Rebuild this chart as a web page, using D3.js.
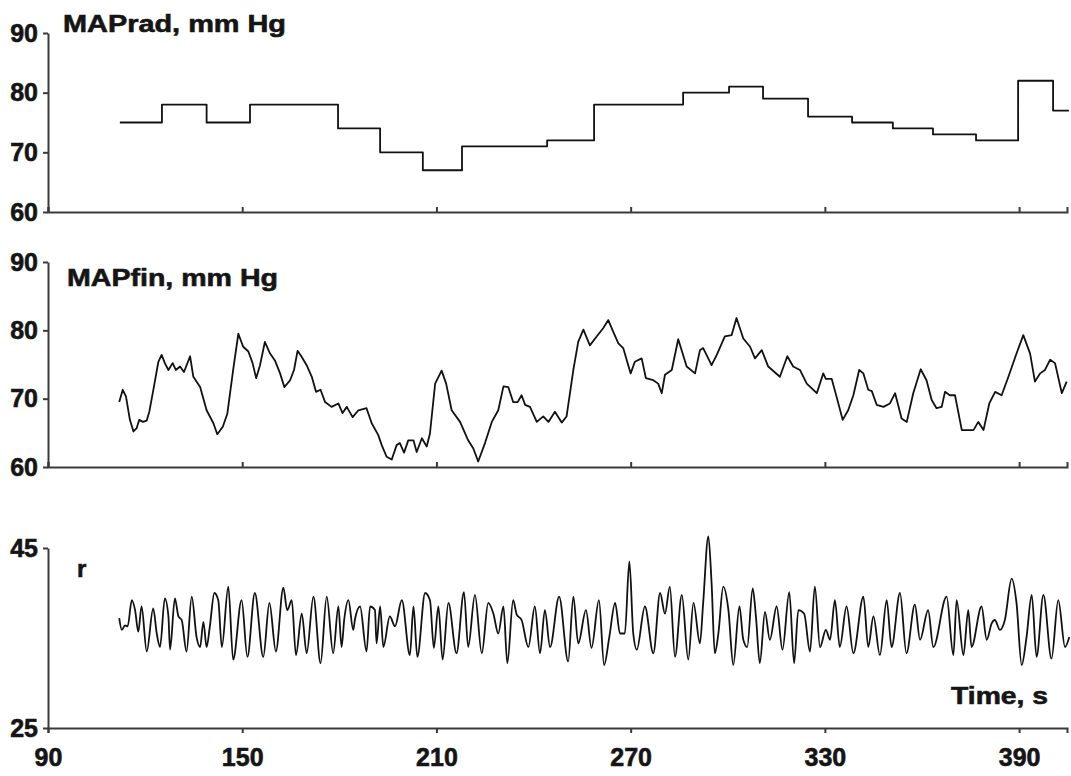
<!DOCTYPE html>
<html>
<head>
<meta charset="utf-8">
<script src="https://cdn.jsdelivr.net/npm/d3@7"></script>
<style>
  body { margin: 0; background: #fff; }
  svg text { font-family: "Liberation Sans", Arial, sans-serif; font-weight: bold; fill: #151515; stroke: #151515; stroke-width: 0.6; }
  .axis path, .axis line { stroke: #3a3a3a; stroke-width: 2; }
  .axis text { font-size: 25px; }
  .trace { fill: none; stroke: #111; stroke-width: 1.8; stroke-linejoin: round; }
  .title { font-size: 24px; }
</style>
</head>
<body>
<div id="root"></div>
<script>
// time axis (s)
const timeTicks = [90, 150, 210, 270, 330, 390];
const radTicks = [60, 70, 80, 90];
const finTicks = [60, 70, 80, 90];
const rTicks = [25, 45];

// MAPrad: step start times and levels (mm Hg)
const radStepTime = [112.2, 125.2, 139.0, 152.4, 179.6, 192.6, 205.8, 217.9, 244.2, 258.7,
  286.2, 300.4, 310.9, 324.8, 338.4, 351.0, 363.4, 376.7, 389.7, 400.5, 405.4];
const radStepValue = [75, 78, 75, 78, 74, 70, 67, 71, 72, 78,
  80, 81, 79, 76, 75, 74, 73, 72, 82, 77, 77];

// MAPfin trace [time, mm Hg]
const mapFin = [
  [112.0,69.5],[113.1,71.3],[114.1,70.3],[115.3,66.9],[116.4,65.2],[117.4,65.7],[118.2,66.9],
  [119.3,66.6],[120.5,66.8],[121.3,68.1],[122.7,71.7],[124.1,75.4],[125.1,76.4],[126.1,75.2],
  [127.2,74.2],[128.5,75.2],[129.5,74.2],[130.8,74.7],[132.0,73.9],[133.9,76.2],[134.9,73.2],
  [137.0,71.7],[139.0,68.3],[141.1,66.4],[142.3,64.8],[144.0,65.9],[145.4,67.8],[147.2,74.2],
  [148.8,79.5],[150.3,77.6],[151.9,76.9],[153.2,75.2],[154.3,73.0],[155.5,74.9],[157.0,78.3],
  [158.6,76.6],[160.1,75.6],[161.7,73.7],[163.0,71.7],[164.8,72.7],[166.0,74.2],[167.1,77.0],
  [168.4,76.1],[169.9,74.9],[171.5,73.2],[172.8,71.0],[174.2,71.3],[175.6,69.5],[177.6,68.8],
  [179.7,69.3],[181.0,67.9],[182.3,68.8],[184.1,67.3],[185.9,68.3],[188.4,68.6],[190.0,66.4],
  [192.0,64.7],[193.1,63.2],[194.6,61.5],[196.2,61.1],[197.7,63.2],[198.7,63.5],[200.0,62.1],
  [201.3,63.9],[202.9,63.9],[203.9,62.2],[205.5,64.2],[207.0,63.0],[208.0,64.9],[209.6,72.2],
  [211.6,74.1],[213.0,72.2],[214.7,68.3],[217.3,66.6],[219.8,63.9],[221.4,62.7],[222.9,60.8],
  [225.0,63.5],[227.1,66.6],[229.1,68.3],[230.7,71.8],[232.2,71.7],[233.7,69.5],[235.1,69.5],
  [236.3,70.5],[237.4,69.1],[238.9,68.8],[241.0,66.6],[243.0,67.4],[244.6,66.6],[246.6,68.1],
  [248.7,66.5],[250.2,67.4],[252.3,74.2],[253.8,78.3],[255.4,80.1],[257.4,77.8],[259.5,79.1],
  [261.5,80.3],[263.1,81.5],[264.6,79.8],[266.2,78.1],[267.7,77.4],[270.0,73.7],[271.3,75.4],
  [273.4,75.9],[274.7,73.0],[277.0,72.7],[278.5,72.2],[279.6,70.8],[280.6,73.5],[282.7,74.2],
  [284.7,78.7],[287.3,74.7],[289.9,73.7],[291.4,77.1],[292.4,77.4],[295.0,74.9],[296.6,76.4],
  [299.1,79.1],[301.2,79.3],[302.7,81.8],[304.8,78.8],[306.9,77.6],[308.4,75.9],[310.5,77.1],
  [312.5,74.7],[316.1,73.2],[318.4,76.2],[320.2,74.7],[322.3,74.2],[324.4,72.2],[327.5,70.8],
  [329.5,73.7],[330.3,72.9],[332.1,72.9],[333.6,70.3],[335.5,66.9],[337.2,68.3],[338.8,70.5],
  [340.6,74.2],[341.9,73.7],[343.4,71.3],[344.5,71.1],[346.0,69.1],[348.1,68.8],[350.1,69.3],
  [351.7,70.8],[353.7,67.1],[355.3,66.6],[357.3,70.8],[359.6,74.3],[361.4,72.7],[363.0,69.8],
  [364.5,68.6],[366.1,68.8],[367.1,71.0],[368.6,70.5],[370.2,70.5],[372.3,65.4],[375.9,65.4],
  [377.4,66.6],[379.0,65.4],[380.8,69.3],[382.6,71.0],[384.6,70.5],[386.7,73.2],[389.2,76.6],
  [391.3,79.3],[393.4,76.6],[394.9,72.5],[396.5,73.7],[398.0,74.2],[399.6,75.7],[401.1,75.2],
  [403.2,70.8],[404.7,72.5]
];

// r trace [time, value]
const rSeries = [
  [112.0,37.2],[112.8,35.9],[113.8,36.4],[114.6,36.3],[115.9,39.2],[116.9,38.1],[117.9,35.7],
  [118.9,38.5],[120.5,33.5],[122.5,38.3],[123.6,35.5],[124.6,34.0],[126.1,39.4],[127.2,37.4],
  [127.7,33.7],[129.2,39.4],[130.3,37.4],[131.3,37.0],[132.8,33.5],[134.4,39.6],[135.9,35.1],
  [137.0,34.0],[138.0,36.8],[139.0,34.0],[140.0,36.3],[141.4,40.0],[142.6,39.2],[143.7,34.0],
  [145.7,40.7],[147.2,32.6],[149.8,39.2],[151.6,32.9],[153.9,40.0],[156.5,32.9],[158.4,38.9],
  [160.4,33.5],[162.7,40.6],[163.9,38.1],[165.3,39.2],[166.6,33.1],[168.4,37.7],[169.9,33.3],
  [172.0,39.6],[174.2,32.2],[176.1,39.6],[178.1,33.3],[179.7,38.5],[180.7,34.0],[181.5,37.0],
  [182.8,39.2],[184.3,35.9],[184.8,37.0],[186.4,38.5],[188.4,33.5],[189.5,38.5],[191.0,38.1],
  [191.5,34.4],[192.6,38.5],[193.6,34.0],[195.6,37.4],[197.2,36.3],[199.3,39.2],[201.8,33.1],
  [202.9,38.5],[204.1,32.9],[206.5,40.0],[208.0,39.2],[209.2,33.9],[210.6,38.5],[211.9,32.6],
  [213.7,38.9],[216.2,33.3],[218.5,40.1],[219.8,34.0],[221.9,39.8],[224.0,33.3],[226.0,38.9],
  [227.6,37.7],[229.1,35.5],[230.7,38.5],[231.9,32.2],[233.7,39.2],[234.8,37.6],[236.3,37.0],
  [238.4,34.0],[240.4,38.5],[242.0,33.3],[243.5,38.1],[245.1,34.0],[247.9,39.6],[250.7,32.4],
  [252.3,39.6],[253.8,34.4],[256.2,38.1],[257.9,33.9],[260.2,39.2],[261.8,32.0],[263.4,35.1],
  [265.2,38.9],[266.7,35.5],[268.2,35.5],[269.6,43.5],[270.8,35.5],[271.9,33.7],[274.4,38.5],
  [277.0,33.3],[279.1,40.0],[280.6,37.7],[282.1,40.7],[283.7,32.9],[285.8,39.8],[287.8,32.6],
  [289.4,38.9],[291.4,34.4],[292.4,38.9],[294.0,46.3],[295.0,41.1],[296.0,33.3],[297.1,35.5],
  [298.6,40.7],[300.2,38.1],[301.7,32.0],[303.6,38.5],[304.8,34.8],[306.0,34.0],[307.7,40.5],
  [308.7,37.4],[309.9,32.2],[311.5,37.9],[313.0,34.8],[315.1,38.5],[316.9,33.7],[319.0,40.1],
  [320.5,32.2],[321.8,38.1],[323.6,37.7],[325.4,33.5],[326.9,40.7],[328.5,34.0],[330.3,35.9],
  [331.6,34.8],[333.1,39.2],[334.6,34.0],[336.7,38.5],[338.8,33.3],[341.9,39.6],[343.4,34.0],
  [345.0,37.4],[347.0,33.1],[349.1,39.2],[350.6,34.0],[353.2,40.0],[355.2,33.3],[357.8,38.7],
  [359.4,34.8],[361.9,38.1],[363.5,34.0],[367.6,39.6],[369.7,33.1],[370.7,39.2],[372.8,33.1],
  [374.3,38.1],[375.3,34.0],[378.4,38.5],[380.0,34.8],[381.5,36.6],[382.5,37.0],[384.1,35.9],
  [385.6,37.0],[387.7,41.6],[389.2,38.9],[390.8,32.0],[392.3,35.1],[393.9,39.8],[395.4,32.9],
  [397.5,39.8],[400.0,32.7],[402.1,39.2],[404.2,34.0],[405.5,35.1]
];

const width = 1071;
const height = 776;

const svg = d3.select('#root')
  .append('svg')
    .attr('width', width)
    .attr('height', height);

const x = d3.scaleLinear()
  .domain([90, 404.8])
  .range([48, 1067]);

const yRad = d3.scaleLinear().domain([60, 90]).range([212, 33]);
const yFin = d3.scaleLinear().domain([60, 90]).range([467, 262]);
const yR = d3.scaleLinear().domain([25, 45]).range([728, 548]);

function drawAxes(y, ticks, bottomLabels) {
  svg.append('g')
    .attr('class', 'axis')
    .attr('transform', `translate(${x.range()[0]}, 0)`)
    .call(d3.axisLeft(y).tickValues(ticks).tickSize(5).tickSizeOuter(0).tickPadding(5));

  const xAxis = d3.axisBottom(x)
    .tickValues(timeTicks)
    .tickSizeOuter(0);
  if (bottomLabels) {
    xAxis.tickSize(5).tickPadding(15);
  } else {
    xAxis.tickSize(-5).tickFormat('');   // inward ticks, no labels
  }
  svg.append('g')
    .attr('class', 'axis')
    .attr('transform', `translate(0, ${y.range()[0]})`)
    .call(xAxis);
}

drawAxes(yRad, radTicks, false);
drawAxes(yFin, finTicks, false);
drawAxes(yR, rTicks, true);

// traces
const radPoints = radStepTime.map((t, i) => [t, radStepValue[i]]);
svg.append('path')
  .attr('class', 'trace')
  .attr('d', d3.line().x(d => x(d[0])).y(d => yRad(d[1])).curve(d3.curveStepAfter)(radPoints));

svg.append('path')
  .attr('class', 'trace')
  .attr('d', d3.line().x(d => x(d[0])).y(d => yFin(d[1]))(mapFin));

svg.append('path')
  .attr('class', 'trace')
  .attr('stroke-width', 1.7)
  .attr('d', d3.line().x(d => x(d[0])).y(d => yR(d[1])).curve(d3.curveMonotoneX)(rSeries));

// titles
const titles = [
  { text: 'MAPrad, mm Hg', x: 63, y: 32, len: 223 },
  { text: 'MAPfin, mm Hg', x: 67, y: 286, len: 211 },
  { text: 'r', x: 77, y: 577, len: null },
  { text: 'Time, s', x: 951, y: 704, len: 97 }
];
titles.forEach(d => {
  const t = svg.append('text')
    .attr('class', 'title')
    .attr('x', d.x)
    .attr('y', d.y)
    .text(d.text);
  if (d.len) t.attr('textLength', d.len).attr('lengthAdjust', 'spacingAndGlyphs');
});
</script>
</body>
</html>
